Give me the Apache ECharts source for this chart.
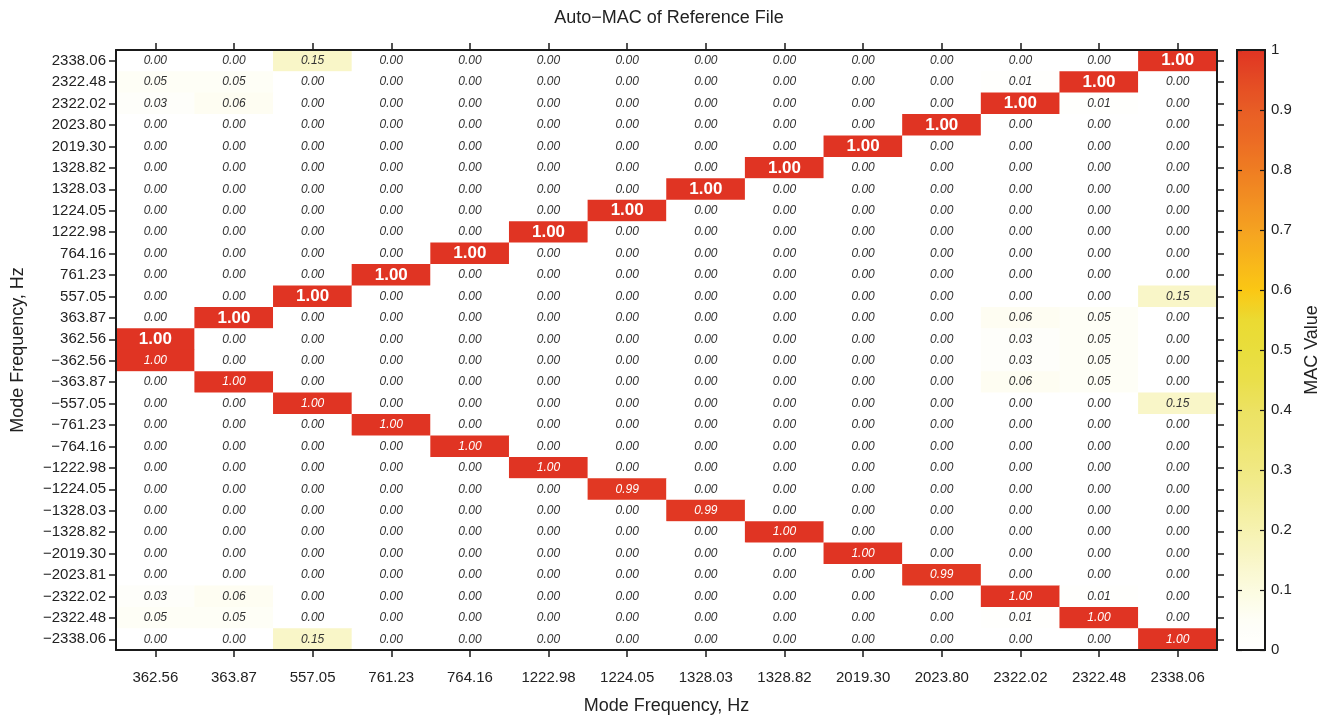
<!DOCTYPE html>
<html>
<head>
<meta charset="utf-8">
<script src="https://cdn.jsdelivr.net/npm/echarts@6/dist/echarts.min.js"></script>
<style>html,body{margin:0;padding:0;background:#fff}#c{width:1338px;height:716px}</style>
</head>
<body>
<div id="c"></div>
<script>
// Column (x) mode frequencies
var xLabels = ['362.56','363.87','557.05','761.23','764.16','1222.98','1224.05','1328.03','1328.82','2019.30','2023.80','2322.02','2322.48','2338.06'];
// Row (y) mode frequencies, listed top to bottom
var yLabelsTop = ['2338.06','2322.48','2322.02','2023.80','2019.30','1328.82','1328.03','1224.05','1222.98','764.16','761.23','557.05','363.87','362.56',
  '\u2212362.56','\u2212363.87','\u2212557.05','\u2212761.23','\u2212764.16','\u22121222.98','\u22121224.05','\u22121328.03','\u22121328.82','\u22122019.30','\u22122023.81','\u22122322.02','\u22122322.48','\u22122338.06'];
// MAC values, rows top to bottom, columns left to right
var macValues = [
  [0.00,0.00,0.15,0.00,0.00,0.00,0.00,0.00,0.00,0.00,0.00,0.00,0.00,1.00],
  [0.05,0.05,0.00,0.00,0.00,0.00,0.00,0.00,0.00,0.00,0.00,0.01,1.00,0.00],
  [0.03,0.06,0.00,0.00,0.00,0.00,0.00,0.00,0.00,0.00,0.00,1.00,0.01,0.00],
  [0.00,0.00,0.00,0.00,0.00,0.00,0.00,0.00,0.00,0.00,1.00,0.00,0.00,0.00],
  [0.00,0.00,0.00,0.00,0.00,0.00,0.00,0.00,0.00,1.00,0.00,0.00,0.00,0.00],
  [0.00,0.00,0.00,0.00,0.00,0.00,0.00,0.00,1.00,0.00,0.00,0.00,0.00,0.00],
  [0.00,0.00,0.00,0.00,0.00,0.00,0.00,1.00,0.00,0.00,0.00,0.00,0.00,0.00],
  [0.00,0.00,0.00,0.00,0.00,0.00,1.00,0.00,0.00,0.00,0.00,0.00,0.00,0.00],
  [0.00,0.00,0.00,0.00,0.00,1.00,0.00,0.00,0.00,0.00,0.00,0.00,0.00,0.00],
  [0.00,0.00,0.00,0.00,1.00,0.00,0.00,0.00,0.00,0.00,0.00,0.00,0.00,0.00],
  [0.00,0.00,0.00,1.00,0.00,0.00,0.00,0.00,0.00,0.00,0.00,0.00,0.00,0.00],
  [0.00,0.00,1.00,0.00,0.00,0.00,0.00,0.00,0.00,0.00,0.00,0.00,0.00,0.15],
  [0.00,1.00,0.00,0.00,0.00,0.00,0.00,0.00,0.00,0.00,0.00,0.06,0.05,0.00],
  [1.00,0.00,0.00,0.00,0.00,0.00,0.00,0.00,0.00,0.00,0.00,0.03,0.05,0.00],
  [1.00,0.00,0.00,0.00,0.00,0.00,0.00,0.00,0.00,0.00,0.00,0.03,0.05,0.00],
  [0.00,1.00,0.00,0.00,0.00,0.00,0.00,0.00,0.00,0.00,0.00,0.06,0.05,0.00],
  [0.00,0.00,1.00,0.00,0.00,0.00,0.00,0.00,0.00,0.00,0.00,0.00,0.00,0.15],
  [0.00,0.00,0.00,1.00,0.00,0.00,0.00,0.00,0.00,0.00,0.00,0.00,0.00,0.00],
  [0.00,0.00,0.00,0.00,1.00,0.00,0.00,0.00,0.00,0.00,0.00,0.00,0.00,0.00],
  [0.00,0.00,0.00,0.00,0.00,1.00,0.00,0.00,0.00,0.00,0.00,0.00,0.00,0.00],
  [0.00,0.00,0.00,0.00,0.00,0.00,0.99,0.00,0.00,0.00,0.00,0.00,0.00,0.00],
  [0.00,0.00,0.00,0.00,0.00,0.00,0.00,0.99,0.00,0.00,0.00,0.00,0.00,0.00],
  [0.00,0.00,0.00,0.00,0.00,0.00,0.00,0.00,1.00,0.00,0.00,0.00,0.00,0.00],
  [0.00,0.00,0.00,0.00,0.00,0.00,0.00,0.00,0.00,1.00,0.00,0.00,0.00,0.00],
  [0.00,0.00,0.00,0.00,0.00,0.00,0.00,0.00,0.00,0.00,0.99,0.00,0.00,0.00],
  [0.03,0.06,0.00,0.00,0.00,0.00,0.00,0.00,0.00,0.00,0.00,1.00,0.01,0.00],
  [0.05,0.05,0.00,0.00,0.00,0.00,0.00,0.00,0.00,0.00,0.00,0.01,1.00,0.00],
  [0.00,0.00,0.15,0.00,0.00,0.00,0.00,0.00,0.00,0.00,0.00,0.00,0.00,1.00]
];
var colorbarTicks = [0,0.1,0.2,0.3,0.4,0.5,0.6,0.7,0.8,0.9,1];
var colorStops = ['#ffffff','#fefef6','#fcfbe0','#f9f6c8','#f6f2b0','#f3ed98','#f0e983','#eee570','#ece262','#eadf4a','#e9de3c','#ebda32','#fbc714','#f8b51b','#f5a221','#f28f22','#ef7d22','#ec6b24','#e85d25','#e44a24','#e03423'];

var FONT = 'Liberation Sans, Arial, Helvetica, sans-serif';
var yLabels = yLabelsTop.slice().reverse();
var nRows = yLabelsTop.length;
var data = [];
for (var r = 0; r < nRows; r++) {
  for (var c = 0; c < xLabels.length; c++) {
    var v = macValues[r][c];
    var yi = nRows - 1 - r;
    var item = { value: [c, yi, v] };
    if (v >= 0.9 && r < 14) {
      item.label = { color: '#ffffff', fontWeight: 'bold', fontStyle: 'normal', fontSize: 17 };
    } else if (v >= 0.9) {
      item.label = { color: '#ffffff', fontStyle: 'italic', fontSize: 12 };
    }
    data.push(item);
  }
}

function lineStyle() { return { color: '#1a1a1a', width: 2 }; }
function tickStyle() { return { color: '#1a1a1a', width: 1.5 }; }
var chart = echarts.init(document.getElementById('c'), null, { renderer: 'canvas' });
chart.setOption({
  backgroundColor: '#ffffff',
  animation: false,
  title: {
    text: 'Auto\u2212MAC of Reference File',
    left: 'center', top: 4,
    textStyle: { fontFamily: FONT, fontSize: 18, fontWeight: 'normal', color: '#222' }
  },
  grid: [
    { left: 116, right: 121, top: 50, bottom: 66, containLabel: false, outerBoundsMode: 'none' },
    { left: 1237, width: 28, top: 50, bottom: 66, outerBoundsMode: 'none', show: true, borderColor: '#1a1a1a', borderWidth: 2, backgroundColor: 'transparent', z: 10 }
  ],
  xAxis: [
    { type: 'category', gridIndex: 0, data: xLabels, position: 'bottom', z: 5,
      name: 'Mode Frequency, Hz', nameLocation: 'middle', nameGap: 47,
      nameTextStyle: { fontFamily: FONT, fontSize: 18, color: '#222' },
      axisLine: { show: true, onZero: false, lineStyle: lineStyle() },
      axisTick: { show: true, alignWithLabel: true, inside: false, length: 7, interval: 0, lineStyle: tickStyle() },
      axisLabel: { fontFamily: FONT, fontSize: 15, color: '#222', margin: 20, interval: 0 },
      splitLine: { show: false }, splitArea: { show: false } },
    { type: 'category', gridIndex: 0, data: xLabels, position: 'top', z: 5,
      axisLine: { show: true, onZero: false, lineStyle: lineStyle() },
      axisTick: { show: true, alignWithLabel: true, inside: false, length: 7, interval: 0, lineStyle: tickStyle() },
      axisLabel: { show: false }, splitLine: { show: false } },
    { type: 'value', gridIndex: 1, min: 0, max: 1, show: false }
  ],
  yAxis: [
    { type: 'category', gridIndex: 0, data: yLabels, position: 'left', z: 5,
      name: 'Mode Frequency, Hz', nameLocation: 'middle', nameGap: 89, nameRotate: 90,
      nameTextStyle: { fontFamily: FONT, fontSize: 18, color: '#222' },
      axisLine: { show: true, onZero: false, lineStyle: lineStyle() },
      axisTick: { show: true, alignWithLabel: true, inside: false, length: 7, interval: 0, lineStyle: tickStyle() },
      axisLabel: { fontFamily: FONT, fontSize: 15, color: '#222', margin: 10, interval: 0 },
      splitLine: { show: false }, splitArea: { show: false } },
    { type: 'category', gridIndex: 0, data: yLabels, position: 'right', z: 5,
      axisLine: { show: true, onZero: false, lineStyle: lineStyle() },
      axisTick: { show: true, alignWithLabel: true, inside: false, length: 7, interval: 0, lineStyle: tickStyle() },
      axisLabel: { show: false }, splitLine: { show: false } },
    { type: 'value', gridIndex: 1, min: 0, max: 1, interval: 0.1, position: 'left', z: 20,
      axisLine: { show: false },
      axisTick: { show: true, inside: true, length: 5, lineStyle: { color: '#1a1a1a', width: 1.2 } },
      axisLabel: { show: false }, splitLine: { show: false } },
    { type: 'value', gridIndex: 1, min: 0, max: 1, interval: 0.1, position: 'right', z: 20,
      name: 'MAC Value', nameLocation: 'middle', nameGap: 38, nameRotate: 90,
      nameTextStyle: { fontFamily: FONT, fontSize: 18, color: '#222' },
      axisLine: { show: false },
      axisTick: { show: true, inside: true, length: 5, lineStyle: { color: '#1a1a1a', width: 1.2 } },
      axisLabel: { fontFamily: FONT, fontSize: 15, color: '#222', margin: 6,
        formatter: function (v) { var k = Math.round(v * 10) / 10; return colorbarTicks.indexOf(k) >= 0 ? String(k) : ''; } },
      splitLine: { show: false } }
  ],
  visualMap: {
    type: 'continuous', min: 0, max: 1, seriesIndex: 0,
    calculable: false, realtime: false, hoverLink: false,
    orient: 'vertical', left: 1237, top: 50,
    itemWidth: 28, itemHeight: 600, padding: 0, text: null, showLabel: false,
    inRange: { color: colorStops }
  },
  series: [
    { type: 'heatmap', xAxisIndex: 0, yAxisIndex: 0, data: data,
      itemStyle: { borderWidth: 0 },
      emphasis: { disabled: true },
      label: { show: true, fontFamily: FONT, fontSize: 12, fontStyle: 'italic', color: '#333',
        formatter: function (p) { return p.value[2].toFixed(2); } } },
    { type: 'scatter', xAxisIndex: 2, yAxisIndex: 3, data: [], silent: true }
  ]
});
</script>
</body>
</html>
